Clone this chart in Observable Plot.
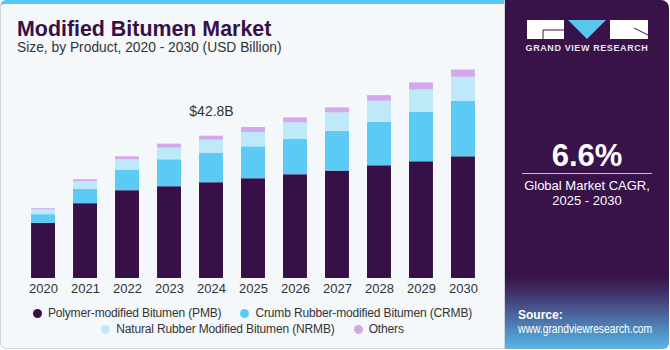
<!DOCTYPE html>
<html>
<head>
<meta charset="utf-8">
<script src="https://cdn.jsdelivr.net/npm/d3@7"></script>
<script src="https://cdn.jsdelivr.net/npm/@observablehq/plot@0.6"></script>
<style>
  html, body { margin: 0; padding: 0; background: #ffffff; }
  #wrap { position: relative; width: 670px; height: 350px; overflow: hidden; font-family: "Liberation Sans", Arial, sans-serif; }
  #left { position: absolute; left: 0; top: 0; width: 503px; height: 344px; background: #f4f8fb;
          border: 1px solid #d3d6d9; border-top: 4px solid #5ac6ef; border-radius: 6px 0 0 6px; }
  #right { position: absolute; left: 505px; top: 0; width: 164px; height: 349px; border-radius: 0 8px 6px 0;
           background: linear-gradient(to bottom, #381249 0%, #381249 79%, #3f2a63 83%, #4a5a92 89%, #4f8ec4 95%, #5ab6e6 100%); }
  #title { position: absolute; left: 17px; top: 17px; font-size: 21.4px; font-weight: bold; color: #371047; white-space: nowrap; }
  #subtitle { position: absolute; left: 17px; top: 40px; font-size: 13.8px; color: #333; white-space: nowrap; }
  #chart { position: absolute; left: 0; top: 60px; }
  .legrow { position: absolute; left: 0; width: 505px; display: flex; justify-content: center; gap: 19px; font-size: 12px; letter-spacing: -0.15px; color: #333; }
  .legitem { display: flex; align-items: center; white-space: nowrap; }
  .dot { width: 9px; height: 9px; border-radius: 50%; margin-right: 6px; }
  .rt { position: absolute; left: 505px; width: 164px; text-align: center; color: #fff; white-space: nowrap; }
</style>
</head>
<body>
<div id="wrap">
  <div id="left"></div>
  <div id="right"></div>
  <div id="title">Modified Bitumen Market</div>
  <div id="subtitle">Size, by Product, 2020 - 2030 (USD Billion)</div>
  <div id="chart"></div>
  <div id="legend"></div>
  <svg style="position:absolute;left:0;top:0" width="670" height="60">
    <rect x="527" y="20" width="37" height="19" fill="#fff"/>
    <line x1="543" y1="30" x2="564" y2="30" stroke="#381249" stroke-width="1"/>
    <line x1="543" y1="30" x2="543" y2="39" stroke="#381249" stroke-width="1"/>
    <polygon points="568,20 606,20 587,39" fill="#5ac6ef"/>
    <rect x="610" y="20" width="38" height="19" fill="#fff"/>
    <line x1="634" y1="28" x2="648" y2="35" stroke="#381249" stroke-width="1"/>
  </svg>
  <div class="rt" style="top:43px;font-size:9px;font-weight:bold;letter-spacing:0.6px;color:#e8e4ee;">GRAND VIEW RESEARCH</div>
  <div class="rt" style="top:138px;font-size:31px;font-weight:bold;">6.6%</div>
  <div style="position:absolute;left:522px;top:173px;width:130px;height:1px;background:#c9bfd3;"></div>
  <div class="rt" style="top:178px;font-size:13px;line-height:15px;">Global Market CAGR,<br>2025 - 2030</div>
  <div style="position:absolute;left:518px;top:308px;font-size:12px;font-weight:bold;color:#fff;">Source:</div>
  <div style="position:absolute;left:518px;top:322px;font-size:12px;color:#fff;white-space:nowrap;transform:scaleX(0.86);transform-origin:left center;">www.grandviewresearch.com</div>
</div>
<script>
const years = ["2020","2021","2022","2023","2024","2025","2026","2027","2028","2029","2030"];
const seriesNames = ["Polymer-modified Bitumen (PMB)", "Crumb Rubber-modified Bitumen (CRMB)", "Natural Rubber Modified Bitumen (NRMB)", "Others"];
const pmb    = [16.6, 22.5, 26.4, 27.6, 28.8, 30.0, 31.2, 32.3, 33.9, 35.1, 36.6];
const crmb   = [2.6, 4.3, 6.2, 8.1, 8.9, 9.6, 10.7, 12.0, 13.1, 14.9, 16.7];
const nrmb   = [1.4, 2.3, 3.1, 3.5, 3.9, 4.3, 4.9, 5.5, 6.3, 6.7, 7.2];
const others = [0.4, 0.6, 0.9, 1.2, 1.2, 1.5, 1.5, 1.5, 1.7, 2.1, 2.2];
const annotatedYear = "2024";
const annotatedTotal = 42.8;
const seriesColors = ["#371047", "#5bcaf5", "#bde9f9", "#d4a9ec"];

const seriesValues = [pmb, crmb, nrmb, others];
const data = [];
seriesNames.forEach((name, si) => {
  years.forEach((y, i) => data.push({year: y, segment: name, value: seriesValues[si][i]}));
});

const chart = Plot.plot({
  width: 500,
  height: 240,
  marginLeft: 13,
  marginRight: 7,
  marginTop: 0,
  marginBottom: 22,
  style: {background: "transparent", fontSize: "13px", fontFamily: "Liberation Sans, Arial, sans-serif", color: "#333"},
  x: {type: "band", domain: years, padding: 0.43, round: false, label: null, tickSize: 0, tickPadding: 5},
  y: {axis: null, domain: [0, 65.56]},
  color: {domain: seriesNames, range: seriesColors},
  marks: [
    Plot.barY(data, {x: "year", y: "value", fill: "segment", order: seriesNames}),
    Plot.text([{year: annotatedYear, total: annotatedTotal}], {
      x: "year", y: "total", text: d => "$" + d.total.toFixed(1) + "B",
      dy: -20, lineAnchor: "bottom", fontSize: 14, fill: "#333"
    })
  ]
});
document.getElementById("chart").appendChild(chart);

const legend = document.getElementById("legend");
const rows = [[0, 1], [2, 3]];
const rowTops = [306, 322];
rows.forEach((row, ri) => {
  const div = document.createElement("div");
  div.className = "legrow";
  div.style.top = rowTops[ri] + "px";
  row.forEach(si => {
    const item = document.createElement("span");
    item.className = "legitem";
    const dot = document.createElement("span");
    dot.className = "dot";
    dot.style.background = seriesColors[si];
    item.appendChild(dot);
    item.appendChild(document.createTextNode(seriesNames[si]));
    div.appendChild(item);
  });
  legend.appendChild(div);
});
</script>
</body>
</html>
